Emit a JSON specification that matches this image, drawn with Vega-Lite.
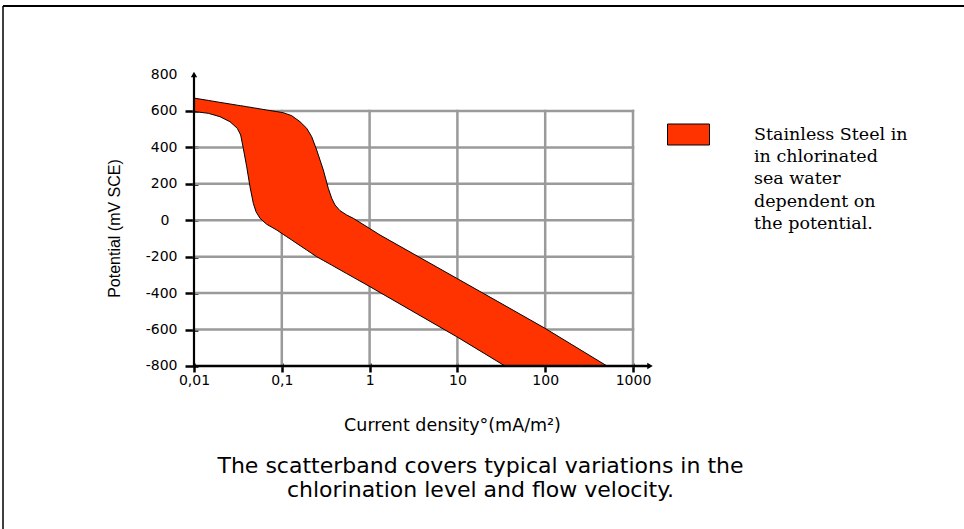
{
  "$schema": "https://vega.github.io/schema/vega-lite/v6.json",
  "width": 961,
  "height": 523,
  "autosize": {"type": "none"},
  "padding": {"left": 3, "top": 6, "right": 0, "bottom": 0},
  "background": "#ffffff",
  "view": {"stroke": null, "strokeWidth": 0},
  "config": {
    "view": {"stroke": null, "strokeWidth": 0},
    "axisRight": {"disable": true, "domain": false, "ticks": false, "labels": false, "grid": false},
    "axisTop": {"disable": true, "domain": false, "ticks": false, "labels": false, "grid": false}
  },
  "resolve": {"axis": {"x": "independent", "y": "independent"}},
  "title": {
    "text": ["The scatterband covers typical variations in the", "chlorination level and flow velocity."],
    "orient": "bottom", "anchor": "middle", "frame": "group", "offset": -73.5, "dx": -3,
    "font": "DejaVu Sans", "fontSize": 22, "fontWeight": "normal", "color": "#000000", "lineHeight": 24
  },
  "datasets": {
    "band": [
      {"x": 0.01, "hi": 670.5, "lo": 596.9},
      {"x": 0.01455, "hi": 657.8, "lo": 587.0},
      {"x": 0.01978, "hi": 646.9, "lo": 568.4},
      {"x": 0.0257, "hi": 638.1, "lo": 540.9},
      {"x": 0.03112, "hi": 631.5, "lo": 504.7},
      {"x": 0.03402, "hi": 628.7, "lo": 467.9},
      {"x": 0.03642, "hi": 626.6, "lo": 394.9},
      {"x": 0.03984, "hi": 623.3, "lo": 293.9},
      {"x": 0.04343, "hi": 620.5, "lo": 184.2},
      {"x": 0.04736, "hi": 617.2, "lo": 93.0},
      {"x": 0.05084, "hi": 615.0, "lo": 46.9},
      {"x": 0.05645, "hi": 611.2, "lo": 10.7},
      {"x": 0.0673, "hi": 605.1, "lo": -22.2},
      {"x": 0.08746, "hi": 596.4, "lo": -53.5},
      {"x": 0.104, "hi": 590.3, "lo": -77.7},
      {"x": 0.1137, "hi": 583.7, "lo": -90.3},
      {"x": 0.1297, "hi": 573.9, "lo": -108.4},
      {"x": 0.1612, "hi": 540.9, "lo": -139.1},
      {"x": 0.1921, "hi": 504.7, "lo": -163.3},
      {"x": 0.219, "hi": 458.6, "lo": -182.0},
      {"x": 0.2497, "hi": 385.6, "lo": -200.1},
      {"x": 0.297, "hi": 275.8, "lo": -220.4},
      {"x": 0.3385, "hi": 175.4, "lo": -235.7},
      {"x": 0.3701, "hi": 120.5, "lo": -246.2},
      {"x": 0.4036, "hi": 83.7, "lo": -256.6},
      {"x": 0.4602, "hi": 52.4, "lo": -272.0},
      {"x": 0.5485, "hi": 28.8, "lo": -292.8},
      {"x": 0.6523, "hi": 10.7, "lo": -313.1},
      {"x": 1.0106, "hi": -46.4, "lo": -364.7},
      {"x": 1.314, "hi": -81.0, "lo": -396.6},
      {"x": 9.818, "hi": -318.6, "lo": -639.2},
      {"x": 34.84, "hi": -468.5, "lo": -800},
      {"x": 99.48, "hi": -593.1, "lo": -800},
      {"x": 505.7, "hi": -800, "lo": -800}
    ],
    "gridx": [{"x": 0.1}, {"x": 1}, {"x": 10}, {"x": 100}, {"x": 1000}],
    "gridy": [{"y": -600}, {"y": -400}, {"y": -200}, {"y": 0}, {"y": 200}, {"y": 400}, {"y": 600}],
    "one": [{}]
  },
  "layer": [
    {
      "data": {"name": "gridx"},
      "mark": {"type": "rule", "color": "#9a9a9a", "strokeWidth": 2.5, "strokeCap": "square"},
      "encoding": {
        "x": {"field": "x", "type": "quantitative", "scale": {"type": "log", "domain": [6.677e-5, 5.888e6], "nice": false}, "axis": null},
        "y": {"datum": -800, "type": "quantitative", "scale": {"domain": [-1694.7, 1176], "nice": false, "zero": false}, "axis": null},
        "y2": {"datum": 600}
      }
    },
    {
      "data": {"name": "gridy"},
      "mark": {"type": "rule", "color": "#9a9a9a", "strokeWidth": 2.5, "strokeCap": "square"},
      "encoding": {
        "x": {"datum": 0.01, "type": "quantitative", "scale": {"type": "log", "domain": [6.677e-5, 5.888e6], "nice": false}, "axis": null},
        "x2": {"datum": 1000},
        "y": {"field": "y", "type": "quantitative", "scale": {"domain": [-1694.7, 1176], "nice": false, "zero": false}, "axis": null}
      }
    },
    {
      "data": {"name": "band"},
      "mark": {"type": "area", "stroke": "#000000", "strokeWidth": 1, "opacity": 1, "fillOpacity": 1},
      "encoding": {
        "x": {
          "field": "x", "type": "quantitative",
          "scale": {"type": "log", "domain": [6.677e-5, 5.888e6], "nice": false},
          "axis": {
            "orient": "bottom", "offset": -166, "values": [0.01, 0.1, 1, 10, 100, 1000],
            "domain": false, "grid": false, "ticks": true, "labels": true,
            "tickSize": 9, "tickWidth": 2.5, "tickColor": "#000000",
            "labelExpr": "replace(toString(datum.value), '.', ',')",
            "labelAlign": "center", "labelBaseline": "top", "labelPadding": 1,
            "labelFont": "DejaVu Sans", "labelFontSize": 14, "labelColor": "#000000",
            "labelOverlap": false, "labelFlush": false, "labelBound": false,
            "title": "Current density°(mA/m²)", "titleFont": "DejaVu Sans", "titleFontSize": 17.5,
            "titleFontWeight": "normal", "titleColor": "#000000",
            "titleX": 449, "titleY": 62, "titleAlign": "center", "titleBaseline": "middle", "titleAngle": 0
          }
        },
        "y": {
          "field": "hi", "type": "quantitative",
          "scale": {"domain": [-1694.7, 1176], "nice": false, "zero": false},
          "axis": {
            "orient": "left", "offset": -195, "values": [-800, -600, -400, -200, 0, 200, 400, 600, 800],
            "domain": false, "grid": false, "ticks": true, "labels": true,
            "tickSize": 13, "tickWidth": 2.5, "tickColor": "#000000",
            "tickOpacity": {"condition": {"test": "datum.value === 800", "value": 0}, "value": 1},
            "labelExpr": "toString(datum.value)",
            "labelAlign": "right", "labelBaseline": "middle",
            "labelPadding": {"condition": {"test": "datum.value === 0", "value": 16}, "value": 8},
            "labelFont": "DejaVu Sans", "labelFontSize": 14, "labelColor": "#000000",
            "labelOverlap": false, "labelFlush": false, "labelBound": false,
            "title": "Potential (mV SCE)", "titleFont": "Liberation Sans", "titleFontSize": 16,
            "titleFontWeight": "normal", "titleColor": "#000000", "titleAngle": -90,
            "titleAlign": "center", "titleBaseline": "middle", "titleX": -83.5, "titleY": 222
          }
        },
        "y2": {"field": "lo"},
        "color": {
          "datum": "Stainless Steel in in chlorinated sea water dependent on the potential.",
          "type": "nominal",
          "scale": {"range": ["#ff3300"]},
          "legend": {
            "orient": "none", "legendX": 664, "legendY": 107, "title": null, "padding": 0,
            "symbolType": "M-1,-0.5H1V0.5H-1Z", "symbolSize": 1764,
            "symbolStrokeColor": "#000000", "symbolStrokeWidth": 1, "symbolOpacity": 1,
            "labelExpr": "['Stainless Steel in', 'in chlorinated', 'sea water', 'dependent on', 'the potential.']",
            "labelFont": "DejaVu Serif", "labelFontSize": 17.5, "labelColor": "#000000",
            "labelBaseline": "alphabetic", "labelOffset": 44, "labelLimit": 400,
            "encode": {"labels": {"update": {"dy": {"value": 5}, "lineHeight": {"value": 22.4}}}}
          }
        }
      }
    },
    {
      "data": {"name": "one"},
      "mark": {"type": "rule", "color": "#000000", "strokeWidth": 2.5},
      "encoding": {
        "x": {"datum": 0.01, "type": "quantitative", "scale": {"type": "log", "domain": [6.677e-5, 5.888e6], "nice": false}, "axis": null},
        "x2": {"datum": 1562},
        "y": {"datum": -800, "type": "quantitative", "scale": {"domain": [-1694.7, 1176], "nice": false, "zero": false}, "axis": null}
      }
    },
    {
      "data": {"name": "one"},
      "mark": {"type": "rule", "color": "#000000", "strokeWidth": 2.2},
      "encoding": {
        "x": {"datum": 0.01, "type": "quantitative", "scale": {"type": "log", "domain": [6.677e-5, 5.888e6], "nice": false}, "axis": null},
        "y": {"datum": -800, "type": "quantitative", "scale": {"domain": [-1694.7, 1176], "nice": false, "zero": false}, "axis": null},
        "y2": {"datum": 790}
      }
    },
    {
      "data": {"name": "one"},
      "mark": {"type": "point", "shape": "triangle-right", "filled": true, "color": "#000000", "size": 40, "opacity": 1},
      "encoding": {
        "x": {"datum": 1562, "type": "quantitative", "scale": {"type": "log", "domain": [6.677e-5, 5.888e6], "nice": false}, "axis": null},
        "y": {"datum": -800, "type": "quantitative", "scale": {"domain": [-1694.7, 1176], "nice": false, "zero": false}, "axis": null}
      }
    },
    {
      "data": {"name": "one"},
      "mark": {"type": "point", "shape": "triangle-up", "filled": true, "color": "#000000", "size": 40, "opacity": 1},
      "encoding": {
        "x": {"datum": 0.01, "type": "quantitative", "scale": {"type": "log", "domain": [6.677e-5, 5.888e6], "nice": false}, "axis": null},
        "y": {"datum": 800, "type": "quantitative", "scale": {"domain": [-1694.7, 1176], "nice": false, "zero": false}, "axis": null}
      }
    },
    {
      "data": {"name": "one"},
      "mark": {"type": "rule", "color": "#000000", "strokeWidth": 2},
      "encoding": {
        "x": {"datum": 6.677e-5, "type": "quantitative", "scale": {"type": "log", "domain": [6.677e-5, 5.888e6], "nice": false}, "axis": null},
        "x2": {"datum": 5.888e6},
        "y": {"datum": 1176, "type": "quantitative", "scale": {"domain": [-1694.7, 1176], "nice": false, "zero": false}, "axis": null}
      }
    },
    {
      "data": {"name": "one"},
      "mark": {"type": "rule", "color": "#000000", "strokeWidth": 1.5},
      "encoding": {
        "x": {"datum": 6.677e-5, "type": "quantitative", "scale": {"type": "log", "domain": [6.677e-5, 5.888e6], "nice": false}, "axis": null},
        "y": {"datum": -1694.7, "type": "quantitative", "scale": {"domain": [-1694.7, 1176], "nice": false, "zero": false}, "axis": null},
        "y2": {"datum": 1176}
      }
    }
  ]
}
